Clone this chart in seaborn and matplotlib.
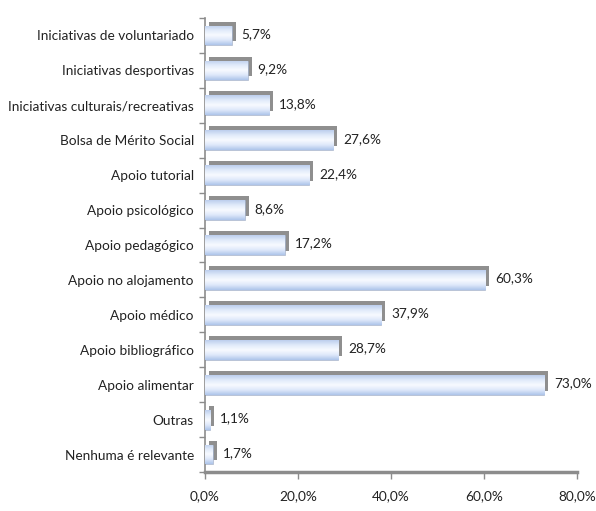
import numpy as np
import pandas as pd
import matplotlib
matplotlib.use("Agg")
import matplotlib.pyplot as plt
import matplotlib.transforms as mtransforms
from matplotlib.ticker import FuncFormatter
import seaborn as sns

categories = [
    "Iniciativas de voluntariado",
    "Iniciativas desportivas",
    "Iniciativas culturais/recreativas",
    "Bolsa de Mérito Social",
    "Apoio tutorial",
    "Apoio psicológico",
    "Apoio pedagógico",
    "Apoio no alojamento",
    "Apoio médico",
    "Apoio bibliográfico",
    "Apoio alimentar",
    "Outras",
    "Nenhuma é relevante",
]
values = [5.7, 9.2, 13.8, 27.6, 22.4, 8.6, 17.2, 60.3, 37.9, 28.7, 73.0, 1.1, 1.7]
x_ticks = [0, 20, 40, 60, 80]

df = pd.DataFrame({"categoria": categories, "valor": values})

sns.set_theme(style="white")
plt.rcParams["font.family"] = ["Lato", "DejaVu Sans"]
FS = 9.8

fig = plt.figure(figsize=(5.96, 5.11), dpi=100)
ax = fig.add_axes([0.344, 0.076, 0.624, 0.889])

bar_w = 0.56
# depth faces (drawn behind, shifted up and to the right)
sns.barplot(data=df, y="categoria", x="valor", orient="h", color="#8f8f8f",
            width=bar_w, saturation=1, ax=ax, zorder=1)
n = len(categories)
shift = mtransforms.ScaledTranslation(4 / 100, 4 / 100, fig.dpi_scale_trans)
for p in ax.patches[:n]:
    p.set_transform(ax.transData + shift)
    p.set_edgecolor("none")

sns.barplot(data=df, y="categoria", x="valor", orient="h", color="#c8d5ee",
            width=bar_w, saturation=1, ax=ax, zorder=2)
front = ax.patches[n:2 * n]

# vertical gradient on each front face
stops = np.array([
    [0.74, 0.81, 0.93],
    [0.88, 0.92, 0.98],
    [0.97, 0.98, 1.00],
    [0.87, 0.91, 0.98],
    [0.68, 0.77, 0.92],
])
t = np.linspace(0, 4, 64)
img = np.stack([np.interp(t, np.arange(5), stops[:, c]) for c in range(3)], axis=-1)[:, None, :]
for p in front:
    p.set_edgecolor("#9aa8c0")
    p.set_linewidth(0.4)
    x0, y0 = p.get_x(), p.get_y()
    w, h = p.get_width(), p.get_height()
    im = ax.imshow(img, extent=(x0, x0 + w, y0 + h, y0), aspect="auto",
                   zorder=3, interpolation="bilinear")
    im.set_clip_path(p)

ax.set_xlim(0, 80)
ax.set_ylim(n - 0.5, -0.5)
ax.set_xticks(x_ticks)
ax.xaxis.set_major_formatter(FuncFormatter(lambda v, _: f"{v:.1f}%".replace(".", ",")))
ax.set_xlabel("")
ax.set_ylabel("")

for i, v in enumerate(values):
    ax.annotate(f"{v:.1f}%".replace(".", ","), xy=(v, i), xytext=(7, 1),
                textcoords="offset points", va="center", ha="left",
                fontsize=FS, color="#222222", zorder=5)

for side in ["top", "right"]:
    ax.spines[side].set_visible(False)
ax.spines["bottom"].set_color("#8c8c8c")
ax.spines["bottom"].set_linewidth(2.5)
ax.spines["left"].set_color("#8c8c8c")
ax.spines["left"].set_linewidth(1.2)

ax.tick_params(axis="x", bottom=True, length=5, width=1, color="#8c8c8c",
               labelsize=FS, labelcolor="#222222", pad=8)
ax.set_yticks(range(n))
ax.set_yticklabels(categories)
ax.tick_params(axis="y", left=False, length=0, labelsize=FS, labelcolor="#222222", pad=8)
# boundary ticks between categories on the value axis
ax.set_yticks(np.arange(-0.5, n, 1), minor=True)
ax.tick_params(axis="y", which="minor", left=True, length=4, width=1, color="#8c8c8c")

fig.savefig("out.png", dpi=100)
